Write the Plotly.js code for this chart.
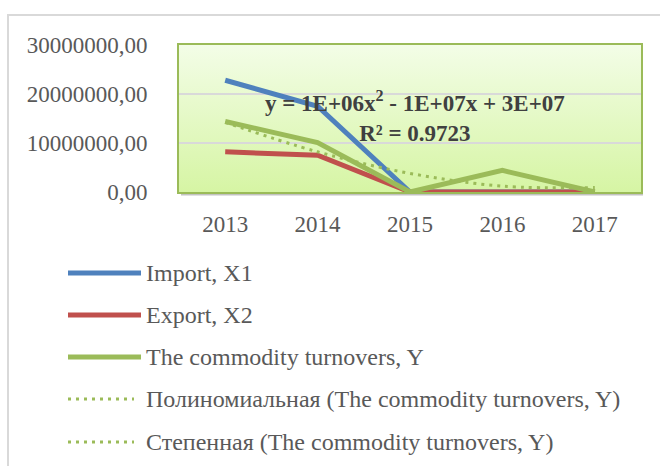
<!DOCTYPE html>
<html>
<head>
<meta charset="utf-8">
<script src="https://cdn.plot.ly/plotly-3.0.1.min.js"></script>
<style>html,body{margin:0;padding:0;background:#ffffff;}</style>
</head>
<body>
<div id="chart" style="width:660px;height:466px;"></div>
<script>
// ---- data ----
const years = ['2013', '2014', '2015', '2016', '2017'];
const importX1 = [22800000, 17500000, 0, 0, 0];
const exportX2 = [8200000, 7500000, 0, 100000, 0];
const turnoverY = [14400000, 10100000, 0, 4400000, 0];
const polyTrendY = [14200000, 8200000, 3800000, 1200000, 900000];
const yTickVals = [0, 10000000, 20000000, 30000000];
const seriesNames = [
  'Import, X1',
  'Export, X2',
  'The commodity turnovers, Y',
  'Полиномиальная (The commodity turnovers, Y)',
  'Степенная (The commodity turnovers, Y)'
];
const trendEquation = 'y = 1E+06x<sup>2</sup> - 1E+07x + 3E+07';
const trendR2 = 'R² = 0.9723';

// ---- styling ----
const W = 660, H = 466;
const M = {l: 179, r: 19, t: 45, b: 274};
const FONT = 'Liberation Serif, Times New Roman, serif';
const TXT = '#595959';
const cBlue = '#4f81bd', cRed = '#c0504d', cGreen = '#9bbb59';
const pw = W - M.l - M.r, ph = H - M.t - M.b;
const px = v => (v - M.l) / pw;           // pixel x -> paper
const py = v => (H - M.b - v) / ph;       // pixel y -> paper

const traces = [
  {x: years, y: importX1, name: seriesNames[0], type: 'scatter', mode: 'lines',
   line: {color: cBlue, width: 5}},
  {x: years, y: exportX2, name: seriesNames[1], type: 'scatter', mode: 'lines',
   line: {color: cRed, width: 5}},
  {x: years, y: turnoverY, name: seriesNames[2], type: 'scatter', mode: 'lines',
   line: {color: cGreen, width: 5}},
  {x: years, y: polyTrendY, name: seriesNames[3], type: 'scatter', mode: 'lines',
   line: {color: cGreen, width: 3, dash: '3px,5px', shape: 'spline'}}
];

// manual legend (long line samples like the reference)
const legendRows = [273, 315, 357, 399, 442];
const legendStyles = [
  {color: cBlue, width: 5, dash: 'solid', x1: 141},
  {color: cRed, width: 5, dash: 'solid', x1: 141},
  {color: cGreen, width: 5, dash: 'solid', x1: 141},
  {color: cGreen, width: 3, dash: '3px,5px', x1: 134},
  {color: cGreen, width: 3, dash: '3px,5px', x1: 134}
];

const shapes = [
  // outer chart frame
  {type: 'rect', xref: 'paper', yref: 'paper', x0: px(8), x1: px(720), y0: py(15), y1: py(560),
   line: {color: '#d9d9d9', width: 2}, layer: 'below'},
  // shadow under plot area
  {type: 'line', xref: 'paper', yref: 'paper', x0: px(181), x1: px(W - M.r + 2), y0: py(H - M.b + 2), y1: py(H - M.b + 2),
   line: {color: 'rgba(120,120,120,0.45)', width: 3}, layer: 'below'}
];
const annotations = [
  {xref: 'paper', yref: 'paper', x: px(415), y: py(116), xanchor: 'center', yanchor: 'middle',
   text: '<b>' + trendEquation + '<br>' + trendR2 + '</b>', showarrow: false,
   font: {family: FONT, size: 23, color: '#404040'}}
];
legendRows.forEach((row, i) => {
  const s = legendStyles[i];
  shapes.push({type: 'line', xref: 'paper', yref: 'paper', x0: px(68), x1: px(s.x1), y0: py(row), y1: py(row),
    line: {color: s.color, width: s.width, dash: s.dash}});
  annotations.push({xref: 'paper', yref: 'paper', x: px(144), y: py(row), xanchor: 'left', yanchor: 'middle',
    text: seriesNames[i], showarrow: false, font: {family: FONT, size: 24, color: TXT}});
});

// plot-area gradient
const grad = 'data:image/svg+xml;charset=utf-8,' + encodeURIComponent(
  '<svg xmlns="http://www.w3.org/2000/svg" width="100" height="100" preserveAspectRatio="none">' +
  '<defs><linearGradient id="g" x1="0" y1="0" x2="0" y2="1">' +
  '<stop offset="0" stop-color="#f3fde7"/><stop offset="1" stop-color="#d6f5a4"/></linearGradient></defs>' +
  '<rect width="100" height="100" fill="url(#g)"/></svg>');

const layout = {
  width: W, height: H,
  margin: M,
  paper_bgcolor: '#ffffff',
  plot_bgcolor: 'rgba(0,0,0,0)',
  showlegend: false,
  separators: ', ',
  font: {family: FONT, size: 23, color: TXT},
  xaxis: {
    type: 'category', tickvals: years, range: [-0.5, 4.5],
    showgrid: false, zeroline: false,
    showline: true, mirror: true, linecolor: cGreen, linewidth: 2,
    ticks: '', ticklabelstandoff: 10,
    tickfont: {family: FONT, size: 23, color: TXT},
    fixedrange: true
  },
  yaxis: {
    range: [0, 30000000], tickvals: yTickVals, tickformat: '.2f',
    showgrid: true, gridcolor: '#d9d9d9', gridwidth: 2,
    zeroline: false,
    showline: true, mirror: true, linecolor: cGreen, linewidth: 2,
    ticks: '', ticklabelstandoff: 25,
    tickfont: {family: FONT, size: 23, color: TXT},
    fixedrange: true
  },
  images: [{source: grad, xref: 'paper', yref: 'paper', x: 0, y: 1, sizex: 1, sizey: 1,
    xanchor: 'left', yanchor: 'top', sizing: 'stretch', layer: 'below'}],
  shapes: shapes,
  annotations: annotations
};

Plotly.newPlot('chart', traces, layout, {staticPlot: true, displayModeBar: false});
</script>
</body>
</html>
